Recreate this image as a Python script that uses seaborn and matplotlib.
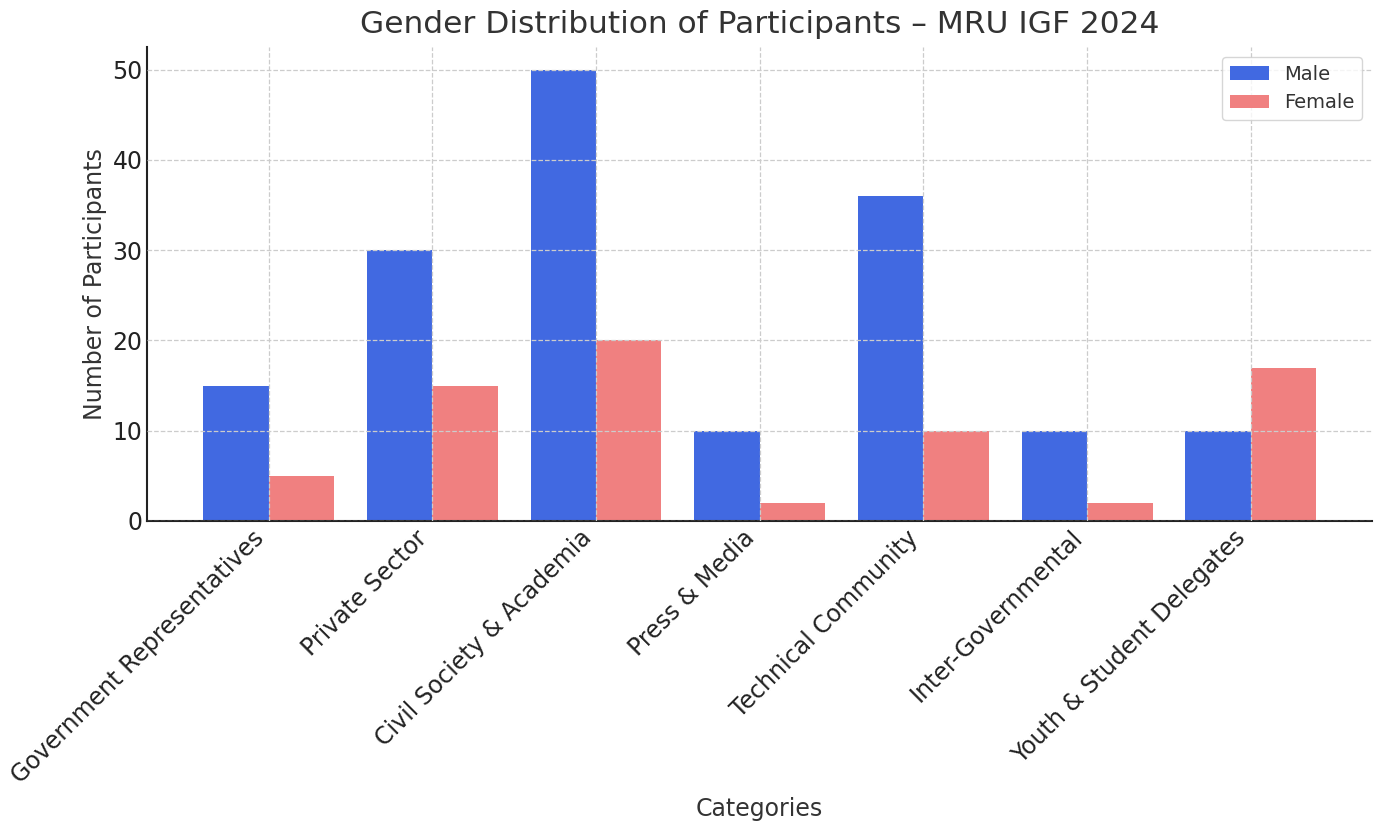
import numpy as np
import pandas as pd
import matplotlib
matplotlib.use("Agg")
import matplotlib.pyplot as plt
import seaborn as sns

# data
categories = [
    "Government Representatives",
    "Private Sector",
    "Civil Society & Academia",
    "Press & Media",
    "Technical Community",
    "Inter-Governmental",
    "Youth & Student Delegates",
]
male = [15, 30, 50, 10, 36, 10, 10]
female = [5, 15, 20, 2, 10, 2, 17]

df = pd.DataFrame({"Category": categories, "Male": male, "Female": female})
df = df.melt(id_vars="Category", var_name="Gender", value_name="Count")

sns.set_style("white")
plt.rcParams["font.family"] = ["DejaVu Sans"]
text_col = "#333333"

fig = plt.figure(figsize=(13.78, 8.25), dpi=100)
ax = fig.add_axes([0.107, 0.3685, 0.8886, 0.5745])

sns.barplot(
    data=df, x="Category", y="Count", hue="Gender",
    palette={"Male": "royalblue", "Female": "lightcoral"},
    width=0.8, saturation=1, ax=ax, gap=0, linewidth=0,
)

ax.set_xlim(-0.74, 6.74)
ax.set_ylim(0, 52.5)
ax.set_axisbelow(False)
ax.grid(True, linestyle="--", color="#cccccc", linewidth=0.9)

for s in ["top", "right"]:
    ax.spines[s].set_visible(False)
for s in ["left", "bottom"]:
    ax.spines[s].set_color("#222222")
    ax.spines[s].set_linewidth(1.5)

ax.tick_params(axis="both", direction="in", length=6, width=1.3, color="#222222",
               labelsize=17, labelcolor="#222222")
plt.setp(ax.get_xticklabels(), rotation=45, ha="right")

ax.set_title("Gender Distribution of Participants \u2013 MRU IGF 2024",
             fontsize=22.5, color=text_col, pad=10)
ax.set_xlabel("Categories", fontsize=17, color=text_col, labelpad=7)
ax.set_ylabel("Number of Participants", fontsize=17, color=text_col)

handles, labels = ax.get_legend_handles_labels()
leg = ax.legend(handles, labels, fontsize=14, loc="upper right", frameon=True)
for t in leg.get_texts():
    t.set_color(text_col)

fig.savefig("out.png", dpi=100)
